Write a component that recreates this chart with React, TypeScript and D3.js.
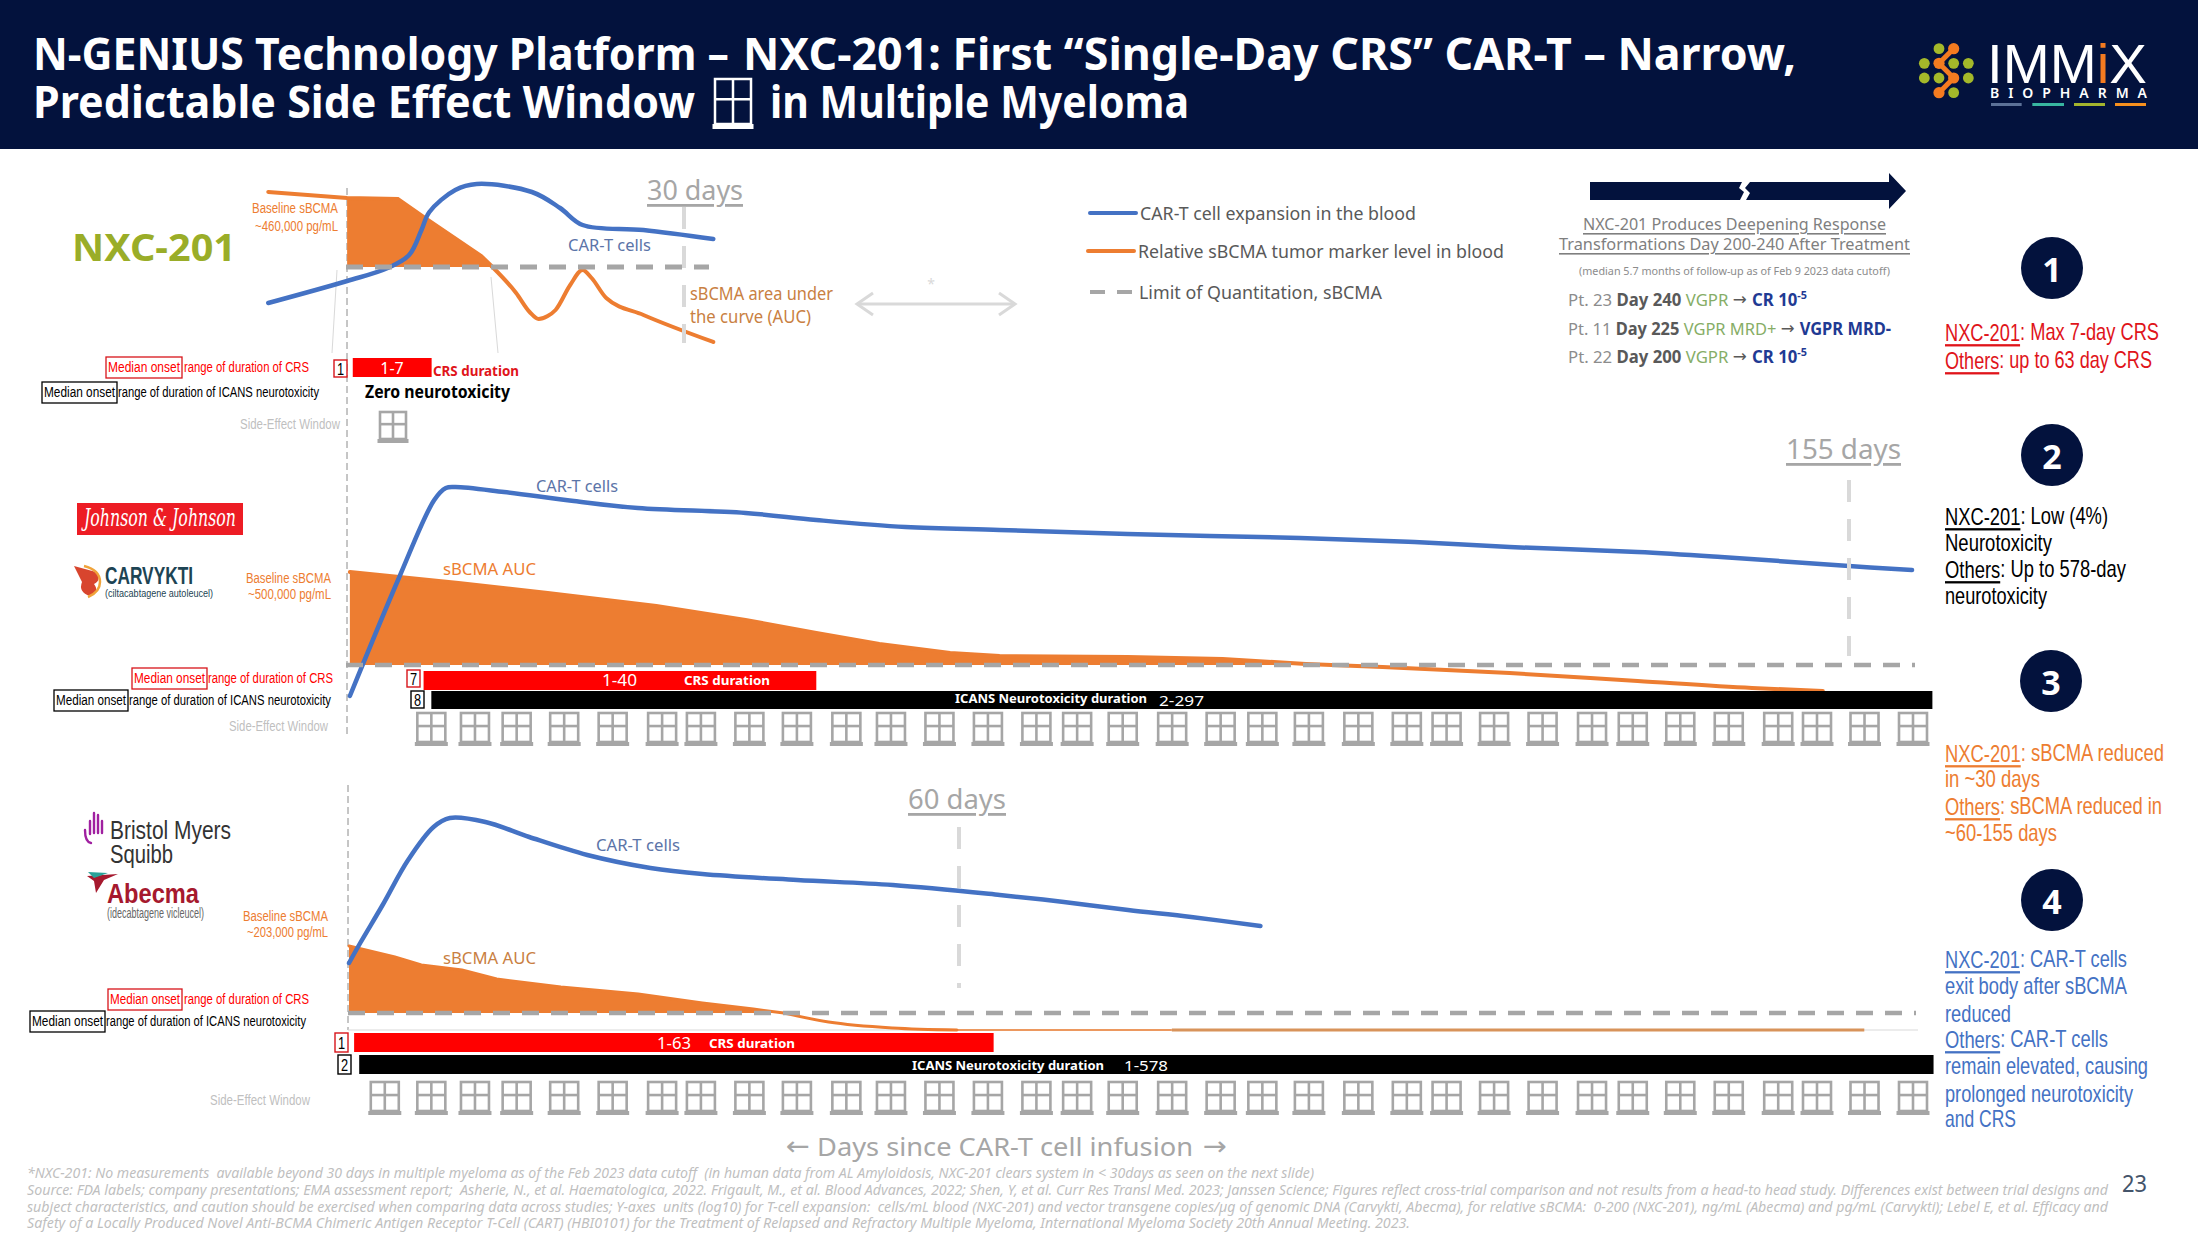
import * as d3 from "d3";

// x = days since infusion, y = sBCMA / CAR-T level relative to the limit of quantitation (0)
const nxcCart: [number, number][] = [
  [-6.9, -36], [0.1, -14], [3.7, -1], [5.6, 12], [6.7, 37], [7.4, 55], [9.7, 77], [11.6, 83],
  [16.5, 75], [19, 59], [21, 42], [26.4, 37], [32.6, 28],
];
const nxcSbcma: [number, number][] = [
  [-6.9, 75], [0.1, 69], [4.6, 68], [7, 49], [12, 11], [13, 0], [15.1, -26], [16.3, -45], [17.1, -52],
  [17.9, -49], [18.6, -43], [19.9, -18], [21, -3], [21.8, -11], [23.1, -31], [26.4, -48], [32.6, -75],
];
const carvyktiCart: [number, number][] = [
  [0.4, -15.5], [5.5, 44], [9.1, 82.5], [10.3, 88.5], [11.3, 89], [16.3, 86.5], [23.5, 82], [30.1, 78.5],
  [41.2, 76], [48.5, 72.5], [57.7, 69], [67.4, 67.5], [80.6, 65.5], [98.4, 63.5], [110.2, 61.5], [120, 59],
  [133.2, 56.5], [141.8, 54], [155, 49.5], [161.5, 47.5],
];
const carvyktiSbcma: [number, number][] = [
  [0.4, 46.5], [5.5, 44], [11.6, 41], [20.8, 36], [32, 29.5], [41.2, 22.5], [48.5, 16], [55, 10.5], [62.3, 6],
  [67.4, 4.5], [80.6, 4], [90.4, 3], [99, 0.5], [106.9, -1], [120, -4], [133.2, -8], [145, -11.5], [152.3, -13],
];
const abecmaCart: [number, number][] = [
  [0.1, 25], [1.2, 35], [3.4, 54], [5.9, 76.5], [8.4, 93], [10, 97.5], [13.5, 95.5], [17.8, 88], [23.5, 79],
  [29.7, 72.5], [34.8, 69.5], [44.1, 66.5], [53.5, 64], [64, 59], [70.3, 55.5], [76.6, 51.5], [82.8, 48], [89.6, 43.5],
];
const abecmaSbcma: [number, number][] = [
  [0.1, 33.5], [4.6, 28], [7.2, 24], [11.2, 21.5], [14.6, 17], [20.9, 13], [28.5, 9.5], [34.8, 5], [39.8, 2],
  [42.8, 0], [47.2, -4.5], [53.5, -7.5], [59.8, -8.5],
];
const abecmaTail: [number, number][] = [[59.8, -8.5], [80.9, -8.5]];
const abecmaPlateau: [number, number][] = [[80.9, -8.5], [148.9, -8.5]];

const nxcCrs = [0.6, 7.6];
const carvyktiCrs = [8, 48.5];
const carvyktiIcans = [8.8, 163.6];
const abecmaCrs = [0.6, 63.4];
const abecmaIcans = [1.1, 155.7];

// one window drawn per slot of the side-effect window, read on the 155-day axis
const windowDays = [
  8.8, 13.3, 17.6, 22.5, 27.5, 32.6, 36.6, 41.6, 46.5, 51.6, 56.2, 61.2, 66.2, 71.2, 75.4, 80.1, 85.2, 90.2, 94.5,
  99.3, 104.4, 109.4, 113.5, 118.4, 123.4, 128.5, 132.7, 137.6, 142.6, 147.7, 151.7, 156.6, 161.6,
];

const titleParts = ["N-GENIUS Technology Platform \u2013", "NXC-201: First \u201cSingle-Day CRS\u201d CAR-T \u2013 Narrow,", "Predictable Side Effect Window", "in Multiple Myeloma"];
const footnotes = [
  "*NXC-201: No measurements  available beyond 30 days in multiple myeloma as of the Feb 2023 data cutoff  (in human data from AL Amyloidosis, NXC-201 clears system in < 30days as seen on the next slide)",
  "Source: FDA labels; company presentations; EMA assessment report;  Asherie, N., et al. Haematologica, 2022. Frigault, M., et al. Blood Advances, 2022; Shen, Y, et al. Curr Res Transl Med. 2023; Janssen Science; Figures reflect cross-trial comparison and not results from a head-to head study. Differences exist between trial designs and",
  "subject characteristics, and caution should be exercised when comparing data across studies; Y-axes  units (log10) for T-cell expansion:  cells/mL blood (NXC-201) and vector transgene copies/\u00b5g of genomic DNA (Carvykti, Abecma), for relative sBCMA:  0-200 (NXC-201), ng/mL (Abecma) and pg/mL (Carvykti); Lebel E, et al. Efficacy and",
  "Safety of a Locally Produced Novel Anti-BCMA Chimeric Antigen Receptor T-Cell (CART) (HBI0101) for the Treatment of Relapsed and Refractory Multiple Myeloma, International Myeloma Society 20th Annual Meeting. 2023.",
];

const NAVY = "#03123d";
const BLUE = "#4472c4";
const ORANGE = "#ed7d31";
const LABEL_ORANGE = "#c97f42";
const GREY = "#a6a6a6";
const LIGHT = "#d9d9d9";
const RED = "#ff0000";
const SANS = "'Noto Sans', 'Open Sans', sans-serif";
const NARROW = "'Liberation Sans', sans-serif";
const SQUEEZE = 0.8;

// panel scales: day axis, and level axis with 0 on the quantitation limit
const x1 = d3.scaleLinear().domain([0, 30]).range([346, 684]);
const y1 = d3.scaleLinear().domain([0, 100]).range([267, 167]);
const x2 = d3.scaleLinear().domain([0, 155]).range([346, 1849]);
const y2 = d3.scaleLinear().domain([0, 100]).range([665, 465]);
const x3 = d3.scaleLinear().domain([0, 60]).range([348, 959]);
const y3 = d3.scaleLinear().domain([0, 100]).range([1013, 813]);

type Scale = d3.ScaleLinear<number, number>;

const linePath = (x: Scale, y: Scale, pts: [number, number][], curve: any = d3.curveLinear) =>
  d3.line<[number, number]>().x((d) => x(d[0])).y((d) => y(d[1])).curve(curve)(pts) || "";

const areaPath = (x: Scale, y: Scale, pts: [number, number][]) =>
  d3.area<[number, number]>().x((d) => x(d[0])).y0(y(0)).y1((d) => y(d[1]))(pts) || "";

function T(props: any) {
  const { x, y, w, size = 16, fill = "#000", family = SANS, weight, anchor, italic, under, sx, children } = props;
  const squeeze = sx || (family === NARROW ? SQUEEZE : 0);
  return (
    <text
      x={squeeze ? 0 : x}
      y={squeeze ? 0 : y}
      transform={squeeze ? `translate(${x},${y}) scale(${squeeze},1)` : undefined}
      fontSize={size}
      fill={fill}
      fontFamily={family}
      fontWeight={weight}
      fontStyle={italic ? "italic" : undefined}
      textAnchor={anchor}
      dominantBaseline="central"
      textDecoration={under ? "underline" : undefined}
      textLength={w ? (squeeze ? w / squeeze : w) : undefined}
      lengthAdjust={w ? "spacingAndGlyphs" : undefined}
      xmlSpace="preserve"
    >
      {children}
    </text>
  );
}

function WindowIcon({ cx, top, w = 28, h = 33, color = GREY, sw = 2.6, sill = 4 }: any) {
  const left = cx - w / 2;
  const body = h - sill;
  return (
    <g fill="none" stroke={color} strokeWidth={sw}>
      <rect x={left} y={top} width={w} height={body} />
      <line x1={cx} x2={cx} y1={top} y2={top + body} />
      <line x1={left} x2={left + w} y1={top + body * 0.45} y2={top + body * 0.45} />
      <rect x={left - 2.5} y={top + body} width={w + 5} height={sill} fill={color} stroke="none" />
    </g>
  );
}

function Panel({ x, y, cart, sbcma, aucEnd, loqEnd, dayMark, markTop, markBottom, sbcmaWidth = 4, loqWidth = 4.5 }: any) {
  const auc = sbcma.filter((d: [number, number]) => d[0] >= 0 && d[0] <= aucEnd);
  const upper = sbcma.filter((d: [number, number]) => d[0] <= aucEnd);
  const lower = sbcma.filter((d: [number, number]) => d[0] >= aucEnd);
  return (
    <g>
      <path d={areaPath(x, y, auc)} fill={ORANGE} />
      <path d={linePath(x, y, upper)} fill="none" stroke={ORANGE} strokeWidth={sbcmaWidth} strokeLinecap="round" />
      <path d={linePath(x, y, lower, d3.curveMonotoneX)} fill="none" stroke={ORANGE} strokeWidth={sbcmaWidth} strokeLinecap="round" />
      <path d={linePath(x, y, cart, d3.curveCatmullRom.alpha(0.5))} fill="none" stroke={BLUE} strokeWidth={4.5} strokeLinecap="round" />
      <line x1={x(0)} x2={loqEnd} y1={y(0)} y2={y(0)} stroke={GREY} strokeWidth={loqWidth} strokeDasharray="17 12" />
      <line x1={x(dayMark)} x2={x(dayMark)} y1={markTop} y2={markBottom} stroke={LIGHT} strokeWidth={4} strokeDasharray="22 17" />
    </g>
  );
}

function Legend({ redX, redW, redY, blackX, blackW, blackY, rangeX, rangeW, icansX, icansW, sideX, sideW, sideY }: any) {
  return (
    <g>
      <rect x={redX} y={redY} width={redW} height={21} fill="#fff" stroke="#d7141a" strokeWidth={1.3} />
      <T x={redX + 2} y={redY + 10.5} w={redW - 4} size={15} fill={RED} family={NARROW}>Median onset</T>
      <T x={rangeX} y={redY + 10.5} w={rangeW} size={15} fill={RED} family={NARROW}>range of duration of CRS</T>
      <rect x={blackX} y={blackY} width={blackW} height={21} fill="#fff" stroke="#000" strokeWidth={1.3} />
      <T x={blackX + 2} y={blackY + 10.5} w={blackW - 4} size={15} family={NARROW}>Median onset</T>
      <T x={icansX} y={blackY + 10.5} w={icansW} size={15} family={NARROW}>range of duration of ICANS neurotoxicity</T>
      <T x={sideX} y={sideY} w={sideW} size={15} fill="#bfbfbf" family={NARROW}>Side-Effect Window</T>
    </g>
  );
}

function Marker({ x, y, w, h, color, children }: any) {
  return (
    <g>
      <rect x={x} y={y} width={w} height={h} fill="#fff" stroke={color} strokeWidth={1.4} />
      <T x={x + w / 2} y={y + h / 2 + 0.5} size={16} anchor="middle" family={NARROW} fill="#000">{children}</T>
    </g>
  );
}

function Bar({ x, range, y, h, color }: any) {
  return <rect x={x(range[0])} width={x(range[1]) - x(range[0])} y={y} height={h} fill={color} />;
}

function RightNote({ y, rows, color }: any) {
  // rows that start a block carry an underlined name
  return (
    <g>
      {rows.map((r: any, i: number) => (
        <text
          key={i}
          transform={`translate(1945,${y[i]}) scale(${SQUEEZE},1)`}
          fontFamily={NARROW}
          fontSize={23}
          fill={color}
          dominantBaseline="central"
          textLength={r.w / SQUEEZE}
          lengthAdjust="spacingAndGlyphs"
        >
          {r.name ? <tspan textDecoration="underline">{r.name}</tspan> : null}
          {r.text}
        </text>
      ))}
    </g>
  );
}

function Badge({ x, y, n }: any) {
  return (
    <g>
      <circle cx={x} cy={y} r={31} fill={NAVY} />
      <text x={x} y={y + 1} fill="#fff" fontFamily={SANS} fontWeight={700} fontSize={34} textAnchor="middle" dominantBaseline="central">{n}</text>
    </g>
  );
}

function ImmixLogo() {
  const greens = [[177, 146], [133, 190], [221, 190], [265, 190], [133, 234], [177, 234], [265, 234], [221, 278]];
  const oranges = [[221, 146], [177, 190], [221, 234], [177, 278]];
  const sx = (v: number) => 1880 + v / 3;
  const sy = (v: number) => v / 3;
  const strip = [[333, 425, "#5c7197"], [457, 552, "#38b6a0"], [582, 675, "#a4b52e"], [705, 798, "#f7901e"]] as const;
  return (
    <g>
      {greens.map((d, i) => <circle key={i} cx={sx(d[0])} cy={sy(d[1])} r={5.4} fill="#a4b82a" />)}
      <polyline points={oranges.map((d) => `${sx(d[0])},${sy(d[1])}`).join(" ")} fill="none" stroke="#f47b20" strokeWidth={5} />
      {oranges.map((d, i) => <circle key={i} cx={sx(d[0])} cy={sy(d[1])} r={5.6} fill="#f47b20" />)}
      <text x={1987} y={83} fontSize={55} fill="#fff" fontFamily="'Liberation Sans', sans-serif" textLength={160} lengthAdjust="spacingAndGlyphs">
        IMM<tspan fill="#f47b20">i</tspan>X
      </text>
      <text x={1990} y={98} fontSize={14} fill="#fff" fontWeight={600} fontFamily={SANS} textLength={157} lengthAdjust="spacing">BIOPHARMA</text>
      {strip.map((d, i) => <rect key={i} x={sx(d[0])} width={(d[1] - d[0]) / 3} y={103} height={3} fill={d[2]} />)}
    </g>
  );
}

function CompanyLogos() {
  return (
    <g>
      <rect x={77} y={503} width={166} height={32} fill="#ed1c24" />
      <T x={160} y={518} w={152} size={24} fill="#fff" anchor="middle" family="'DejaVu Serif', 'Liberation Serif', serif" italic>Johnson &amp; Johnson</T>
      <path d="M74,566 L96,572 Q102,580 94,584 Q100,592 90,596 Q78,592 82,582 Z" fill="#d8452e" />
      <path d="M84,566 Q100,570 100,582 Q100,592 88,597" fill="none" stroke="#f0a33a" strokeWidth={2.5} />
      <T x={105} y={576} w={88} size={24} fill="#1d4454" weight={700} family={NARROW}>CARVYKTI</T>
      <T x={105} y={593} w={108} size={11} fill="#1d4454" family={NARROW}>(ciltacabtagene autoleucel)</T>

      <g stroke="#a020a0" strokeWidth={2.4} strokeLinecap="round" fill="none">
        <path d="M85,830 Q85,842 91,843" />
        <line x1={90} x2={90} y1={821} y2={834} />
        <line x1={94} x2={94} y1={813} y2={833} />
        <line x1={98} x2={98} y1={815} y2={833} />
        <line x1={102} x2={102} y1={821} y2={833} />
      </g>
      <T x={110} y={831} w={121} size={25} fill="#333" family={NARROW}>Bristol Myers</T>
      <T x={110} y={855} w={63} size={25} fill="#333" family={NARROW}>Squibb</T>
      <path d="M87,876 L118,874 L104,880 L96,893 L94,881 Z" fill="#a6192e" />
      <path d="M88,872 L108,873 L94,878 Z" fill="#2aa198" />
      <T x={107} y={894} w={92} size={27} fill="#a6192e" weight={700} family={NARROW}>Abecma</T>
      <T x={107} y={914} w={97} size={14} fill="#666" family={NARROW}>(idecabtagene vicleucel)</T>
    </g>
  );
}

const arrowFont = "'DejaVu Sans', sans-serif";

function PatientLine({ y, w, pt, day, before, after, sup }: any) {
  return (
    <T x={1568} y={y} w={w} size={17} fill="#8c8c8c">
      {pt} <tspan fontWeight={700} fill="#595959">{day} </tspan><tspan fill="#86ad66">{before} </tspan>
      <tspan fontFamily={arrowFont} fill="#595959">{"\u2192"} </tspan>
      <tspan fontWeight={700} fill="#1f3a93">{after}</tspan>
      {sup ? <tspan fontWeight={700} fill="#1f3a93" fontSize={11} dy={-5}>{sup}</tspan> : null}
    </T>
  );
}

export default function App() {
  return (
    <svg width={2198} height={1236} viewBox="0 0 2198 1236" style={{ position: "absolute", left: 0, top: 0, background: "#fff" }}>
      <rect x={0} y={0} width={2198} height={149} fill={NAVY} />
      <T x={33} y={53} w={696} size={44} fill="#fff" weight={700}>{titleParts[0]}</T>
      <T x={743} y={53} w={1053} size={44} fill="#fff" weight={700}>{titleParts[1]}</T>
      <T x={33} y={101} w={662} size={44} fill="#fff" weight={700}>{titleParts[2]}</T>
      <WindowIcon cx={733} top={79} w={36} h={50} color="#fff" sw={2.5} sill={5} />
      <T x={770} y={101} w={419} size={44} fill="#fff" weight={700}>{titleParts[3]}</T>
      <ImmixLogo />

      {/* guides from infusion day */}
      <line x1={347} x2={347} y1={188} y2={738} stroke="#8c8c8c" strokeWidth={1} strokeDasharray="7 4" />
      <line x1={348} x2={348} y1={785} y2={1030} stroke="#8c8c8c" strokeWidth={1} strokeDasharray="7 4" />
      <line x1={337} x2={332} y1={270} y2={353} stroke={LIGHT} strokeWidth={1} />
      <line x1={491} x2={498} y1={277} y2={353} stroke={LIGHT} strokeWidth={1} />

      {/* NXC-201 */}
      <T x={72} y={246} w={164} size={38} fill="#9aad28" weight={700}>NXC-201</T>
      <T x={252} y={208} w={86} size={15} fill={ORANGE} family={NARROW}>Baseline sBCMA</T>
      <T x={255} y={226} w={83} size={15} fill={ORANGE} family={NARROW}>~460,000 pg/mL</T>
      <Panel x={x1} y={y1} cart={nxcCart} sbcma={nxcSbcma} aucEnd={13} loqEnd={709} dayMark={30} markTop={207} markBottom={343} loqWidth={5} />
      <T x={647} y={189} w={96} size={28} fill={GREY} under>30 days</T>
      <T x={568} y={244} w={83} size={17} fill="#5b74a8">CAR-T cells</T>
      <T x={690} y={293} w={143} size={18} fill={LABEL_ORANGE}>sBCMA area under</T>
      <T x={690} y={316} w={121} size={18} fill={LABEL_ORANGE}>the curve (AUC)</T>
      <g fill="none" stroke={LIGHT} strokeWidth={3}>
        <line x1={857} x2={1015} y1={304} y2={304} />
        <path d="M873,293 L857,304 L873,315" />
        <path d="M999,293 L1015,304 L999,315" />
      </g>
      <T x={931} y={283} size={14} fill={LIGHT} anchor="middle">*</T>
      <Legend redX={106} redW={76} redY={357} blackX={42} blackW={75} blackY={382} rangeX={184} rangeW={125} icansX={118} icansW={201} sideX={240} sideW={100} sideY={424} />
      <Marker x={334} y={360} w={13} h={17} color="#d7141a">1</Marker>
      <Bar x={x1} range={nxcCrs} y={358} h={19} color={RED} />
      <T x={392} y={368} size={16} fill="#fff" anchor="middle">1-7</T>
      <T x={433} y={370} w={86} size={14} fill="#e0141a" weight={700}>CRS duration</T>
      <T x={365} y={391} w={145} size={17} weight={700}>Zero neurotoxicity</T>
      <WindowIcon cx={393} top={412} w={26} h={31} />

      {/* Carvykti */}
      <T x={331} y={578} w={85} size={15} fill={ORANGE} anchor="end" family={NARROW}>Baseline sBCMA</T>
      <T x={331} y={594} w={83} size={15} fill={ORANGE} anchor="end" family={NARROW}>~500,000 pg/mL</T>
      <Panel x={x2} y={y2} cart={carvyktiCart} sbcma={carvyktiSbcma} aucEnd={99} loqEnd={1915} dayMark={155} markTop={480} markBottom={656} />
      <T x={1786} y={448} w={115} size={28} fill={GREY} under>155 days</T>
      <T x={536} y={485} w={82} size={17} fill="#5b74a8">CAR-T cells</T>
      <T x={443} y={568} w={93} size={17} fill={ORANGE}>sBCMA AUC</T>
      <Legend redX={132} redW={75} redY={668} blackX={54} blackW={74} blackY={690} rangeX={208} rangeW={125} icansX={129} icansW={202} sideX={229} sideW={99} sideY={726} />
      <Marker x={407} y={670} w={13} h={17} color="#d7141a">7</Marker>
      <Marker x={411} y={691} w={13} h={17} color="#000">8</Marker>
      <Bar x={x2} range={carvyktiCrs} y={671} h={19} color={RED} />
      <Bar x={x2} range={carvyktiIcans} y={691} h={18} color="#000" />
      <T x={602} y={680} w={35} size={16} fill="#fff">1-40</T>
      <T x={684} y={680} w={86} size={13} fill="#fff" weight={700}>CRS duration</T>
      <T x={955} y={698} w={192} size={13} fill="#fff" weight={700}>ICANS Neurotoxicity duration</T>
      <T x={1159} y={700} w={45} size={15} fill="#fff">2-297</T>
      {windowDays.map((d) => <WindowIcon key={d} cx={x2(d)} top={713} />)}

      {/* Abecma */}
      <T x={328} y={916} w={85} size={15} fill={ORANGE} anchor="end" family={NARROW}>Baseline sBCMA</T>
      <T x={328} y={932} w={81} size={15} fill={ORANGE} anchor="end" family={NARROW}>~203,000 pg/mL</T>
      <line x1={348} x2={1918} y1={1030} y2={1030} stroke={LIGHT} strokeWidth={1} />
      <Panel x={x3} y={y3} cart={abecmaCart} sbcma={abecmaSbcma} aucEnd={42.8} loqEnd={1916} dayMark={60} markTop={827} markBottom={988} sbcmaWidth={3} />
      <path d={linePath(x3, y3, abecmaTail)} fill="none" stroke={ORANGE} strokeWidth={1.5} />
      <path d={linePath(x3, y3, abecmaPlateau)} fill="none" stroke="#d8935a" strokeWidth={3} />
      <T x={908} y={798} w={98} size={28} fill={GREY} under>60 days</T>
      <T x={596} y={844} w={84} size={17} fill="#5b74a8">CAR-T cells</T>
      <T x={443} y={957} w={93} size={17} fill={LABEL_ORANGE}>sBCMA AUC</T>
      <Legend redX={108} redW={74} redY={989} blackX={30} blackW={75} blackY={1011} rangeX={184} rangeW={125} icansX={106} icansW={200} sideX={210} sideW={100} sideY={1100} />
      <Marker x={335} y={1033} w={13} h={19} color="#d7141a">1</Marker>
      <Marker x={338} y={1055} w={13} h={19} color="#000">2</Marker>
      <Bar x={x3} range={abecmaCrs} y={1033} h={19} color={RED} />
      <Bar x={x3} range={abecmaIcans} y={1055} h={19} color="#000" />
      <T x={657} y={1043} w={34} size={16} fill="#fff">1-63</T>
      <T x={709} y={1043} w={86} size={13} fill="#fff" weight={700}>CRS duration</T>
      <T x={912} y={1065} w={192} size={13} fill="#fff" weight={700}>ICANS Neurotoxicity duration</T>
      <T x={1124} y={1065} w={44} size={15} fill="#fff">1-578</T>
      {[4, ...windowDays].map((d) => <WindowIcon key={d} cx={x2(d)} top={1082} />)}

      <CompanyLogos />

      {/* legend */}
      <line x1={1090} x2={1136} y1={213} y2={213} stroke={BLUE} strokeWidth={4} strokeLinecap="round" />
      <T x={1140} y={213} w={276} size={18} fill="#595959">CAR-T cell expansion in the blood</T>
      <line x1={1088} x2={1134} y1={251} y2={251} stroke={ORANGE} strokeWidth={4} strokeLinecap="round" />
      <T x={1138} y={251} w={366} size={18} fill="#595959">Relative sBCMA tumor marker level in blood</T>
      <line x1={1090} x2={1132} y1={292} y2={292} stroke={GREY} strokeWidth={4} strokeDasharray="15 12" />
      <T x={1139} y={292} w={243} size={18} fill="#595959">Limit of Quantitation, sBCMA</T>

      {/* follow-up block */}
      <path d="M1590,182 H1742 L1739,188 L1744,192 L1740,200 H1590 Z" fill={NAVY} />
      <path d="M1750,182 H1889 V173 L1906,191 L1889,209 V200 H1746 L1750,193 L1745,188 Z" fill={NAVY} />
      <T x={1583} y={224} w={303} size={16} fill="#7f7f7f" under>NXC-201 Produces Deepening Response</T>
      <T x={1559} y={244} w={351} size={16} fill="#7f7f7f" under>Transformations Day 200-240 After Treatment</T>
      <T x={1579} y={270} w={311} size={11} fill="#8c8c8c">(median 5.7 months of follow-up as of Feb 9 2023 data cutoff)</T>
      <PatientLine y={299} w={239} pt="Pt. 23" day="Day 240" before="VGPR" after="CR 10" sup="-5" />
      <PatientLine y={328} w={323} pt="Pt. 11" day="Day 225" before="VGPR MRD+" after="VGPR MRD-" />
      <PatientLine y={356} w={239} pt="Pt. 22" day="Day 200" before="VGPR" after="CR 10" sup="-5" />

      {/* takeaways */}
      <Badge x={2052} y={268} n={1} />
      <Badge x={2052} y={455} n={2} />
      <Badge x={2051} y={681} n={3} />
      <Badge x={2052} y={900} n={4} />
      <RightNote color="#e0141a" y={[332, 360]} rows={[{ name: "NXC-201", text: ": Max 7-day CRS", w: 214 }, { name: "Others", text: ": up to 63 day CRS", w: 207 }]} />
      <RightNote color="#000" y={[516, 543, 569, 596]} rows={[{ name: "NXC-201", text: ": Low (4%)", w: 163 }, { text: "Neurotoxicity", w: 107 }, { name: "Others", text: ": Up to 578-day", w: 181 }, { text: "neurotoxicity", w: 102 }]} />
      <RightNote color={ORANGE} y={[753, 779, 806, 833]} rows={[{ name: "NXC-201", text: ": sBCMA reduced", w: 219 }, { text: "in ~30 days", w: 95 }, { name: "Others", text: ": sBCMA reduced in", w: 217 }, { text: "~60-155 days", w: 112 }]} />
      <RightNote color={BLUE} y={[959, 986, 1014, 1039, 1066, 1094, 1119]} rows={[{ name: "NXC-201", text: ": CAR-T cells", w: 182 }, { text: "exit body after sBCMA", w: 182 }, { text: "reduced", w: 66 }, { name: "Others", text: ": CAR-T cells", w: 163 }, { text: "remain elevated, causing", w: 203 }, { text: "prolonged neurotoxicity", w: 188 }, { text: "and CRS", w: 71 }]} />

      {/* footer */}
      <T x={786} y={1146} w={24} size={26} fill={GREY} family={arrowFont}>{"\u2190"}</T>
      <T x={817} y={1146} w={376} size={26} fill={GREY}>Days since CAR-T cell infusion</T>
      <T x={1203} y={1146} w={24} size={26} fill={GREY} family={arrowFont}>{"\u2192"}</T>
      {footnotes.map((line, i) => (
        <T key={i} x={27} y={[1172, 1189, 1206, 1222][i]} w={[1287, 2081, 2081, 1383][i]} size={14.5} sx={0.88} fill="#bfbfbf" italic>{line}</T>
      ))}
      <T x={2122} y={1182} w={25} size={24} fill="#44546a">23</T>
    </svg>
  );
}
